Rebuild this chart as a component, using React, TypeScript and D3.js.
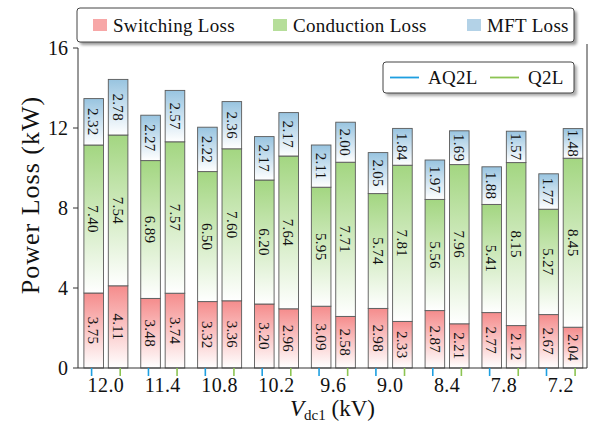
import React from "react";
import * as d3 from "d3";

// DC-link voltage levels (kV)
const categories = ["12.0", "11.4", "10.8", "10.2", "9.6", "9.0", "8.4", "7.8", "7.2"];

// AQ2L loss breakdown (kW)
const aq2lSwitching = [3.75, 3.48, 3.32, 3.2, 3.09, 2.98, 2.87, 2.77, 2.67];
const aq2lConduction = [7.4, 6.89, 6.5, 6.2, 5.95, 5.74, 5.56, 5.41, 5.27];
const aq2lMft = [2.32, 2.27, 2.22, 2.17, 2.11, 2.05, 1.97, 1.88, 1.77];

// Q2L loss breakdown (kW)
const q2lSwitching = [4.11, 3.74, 3.36, 2.96, 2.58, 2.33, 2.21, 2.12, 2.04];
const q2lConduction = [7.54, 7.57, 7.6, 7.64, 7.71, 7.81, 7.96, 8.15, 8.45];
const q2lMft = [2.78, 2.57, 2.36, 2.17, 2.0, 1.84, 1.69, 1.57, 1.48];

const yTicks = [0, 4, 8, 12, 16];

const lossNames = ["Switching Loss", "Conduction Loss", "MFT Loss"];
const topoNames = ["AQ2L", "Q2L"];

const W = 589;
const H = 423;
const plot = { left: 78, right: 587, top: 48, bottom: 368 };

const FONT = "'Liberation Serif', 'Times New Roman', serif";

const gradTop = ["#f58c8c", "#a3d681", "#98c4e0"];
const patchFill = ["#f7a7a7", "#b6de9a", "#b3d2e7"];
const topoColor = ["#1e9fe0", "#8cc453"];

export default function App() {
  const x = d3
    .scaleLinear()
    .domain([0, categories.length - 1])
    .range([105.9, 560.8]);
  const y = d3.scaleLinear().domain([0, 16]).range([plot.bottom, plot.top]);

  const barW = 19.6;
  const barOff = 12.2;
  const tickOff = 14.3;

  const series = [
    { name: topoNames[0], offset: -1, parts: [aq2lSwitching, aq2lConduction, aq2lMft] },
    { name: topoNames[1], offset: 1, parts: [q2lSwitching, q2lConduction, q2lMft] },
  ];

  const segments: {
    key: string;
    cx: number;
    y0: number;
    y1: number;
    value: number;
    kind: number;
  }[] = [];
  series.forEach((s, si) => {
    categories.forEach((c, i) => {
      const stack = d3.cumsum(s.parts.map((p) => p[i]));
      s.parts.forEach((p, k) => {
        const base = k === 0 ? 0 : stack[k - 1];
        segments.push({
          key: `${si}-${i}-${k}`,
          cx: x(i) + s.offset * barOff,
          y0: y(base),
          y1: y(base + p[i]),
          value: p[i],
          kind: k,
        });
      });
    });
  });

  return (
    <svg
      width={W}
      height={H}
      style={{ position: "absolute", left: 0, top: 0, background: "#fff" }}
      fontFamily={FONT}
    >
      <defs>
        {gradTop.map((c, k) => (
          <linearGradient key={k} id={`grad${k}`} x1="0" y1="0" x2="0" y2="1">
            <stop offset="0%" stopColor={c} />
            <stop offset="100%" stopColor="#ffffff" />
          </linearGradient>
        ))}
        <filter id="shadow" x="-10%" y="-30%" width="120%" height="160%">
          <feGaussianBlur stdDeviation="1.6" />
        </filter>
      </defs>

      {/* stacked bars */}
      {segments.map((s) => (
        <rect
          key={s.key}
          x={s.cx - barW / 2}
          y={s.y1}
          width={barW}
          height={s.y0 - s.y1}
          fill={`url(#grad${s.kind})`}
          stroke="#5a5a5a"
          strokeWidth={0.9}
        />
      ))}
      {segments.map((s) => (
        <text
          key={`t${s.key}`}
          transform={`translate(${s.cx},${(s.y0 + s.y1) / 2}) rotate(90)`}
          textAnchor="middle"
          dy="0.35em"
          fontSize={15}
          letterSpacing={0.3}
          fill="#111"
        >
          {s.value.toFixed(2)}
        </text>
      ))}

      {/* axes spines */}
      <line x1={plot.left} x2={plot.left} y1={plot.top} y2={plot.bottom} stroke="#333" strokeWidth={1} />
      <line x1={plot.right} x2={plot.right} y1={plot.top - 4} y2={plot.bottom} stroke="#333" strokeWidth={1} />
      <line x1={plot.left} x2={plot.right} y1={plot.bottom} y2={plot.bottom} stroke="#333" strokeWidth={1} />

      {/* y axis */}
      {yTicks.map((t) => (
        <g key={t} transform={`translate(0,${y(t)})`}>
          <line x1={plot.left - 5} x2={plot.left} stroke="#333" strokeWidth={1} />
          <text x={plot.left - 10} dy="0.35em" textAnchor="end" fontSize={20} fill="#111">
            {t}
          </text>
        </g>
      ))}
      <text
        transform={`translate(30,195) rotate(-90)`}
        textAnchor="middle"
        dy="0.35em"
        fontSize={26}
        letterSpacing={1}
        fill="#111"
      >
        Power Loss (kW)
      </text>

      {/* x axis: coloured ticks per topology */}
      {categories.map((c, i) => (
        <g key={c}>
          <line
            x1={x(i) - tickOff}
            x2={x(i) - tickOff}
            y1={plot.bottom}
            y2={plot.bottom + 8}
            stroke={topoColor[0]}
            strokeWidth={1.6}
          />
          <line
            x1={x(i) + tickOff}
            x2={x(i) + tickOff}
            y1={plot.bottom}
            y2={plot.bottom + 8}
            stroke={topoColor[1]}
            strokeWidth={1.6}
          />
          <text x={x(i)} y={392} textAnchor="middle" fontSize={20} letterSpacing={0.4} fill="#111">
            {c}
          </text>
        </g>
      ))}
      <text x={(plot.left + plot.right) / 2} y={416} textAnchor="middle" fontSize={23} fill="#111">
        <tspan fontStyle="italic">V</tspan>
        <tspan fontSize={15} dy={4}>dc1</tspan>
        <tspan dy={-4}> (kV)</tspan>
      </text>

      {/* loss-type legend */}
      <rect x={80} y={11} width={497} height={34} rx={3} fill="#999" filter="url(#shadow)" />
      <rect x={77} y={8} width={497} height={34} rx={3} fill="#fff" stroke="#444" strokeWidth={1} />
      {[93, 273, 467].map((px, k) => (
        <g key={k}>
          <rect x={px} y={19} width={14} height={12} fill={patchFill[k]} />
          <text x={px + 20} y={25} dy="0.35em" fontSize={19} letterSpacing={0.3} fill="#111">
            {lossNames[k]}
          </text>
        </g>
      ))}

      {/* topology legend */}
      <rect x={386} y={65} width={191} height={31} rx={3} fill="#aaa" filter="url(#shadow)" />
      <rect x={383} y={62} width={191} height={31} rx={3} fill="#fff" stroke="#444" strokeWidth={1} />
      {[390, 490].map((lx, k) => (
        <g key={k}>
          <line x1={lx} x2={lx + 29} y1={77.5} y2={77.5} stroke={topoColor[k]} strokeWidth={1.8} />
          <text x={lx + 38} y={77.5} dy="0.35em" fontSize={19} letterSpacing={0.3} fill="#111">
            {topoNames[k]}
          </text>
        </g>
      ))}
    </svg>
  );
}
